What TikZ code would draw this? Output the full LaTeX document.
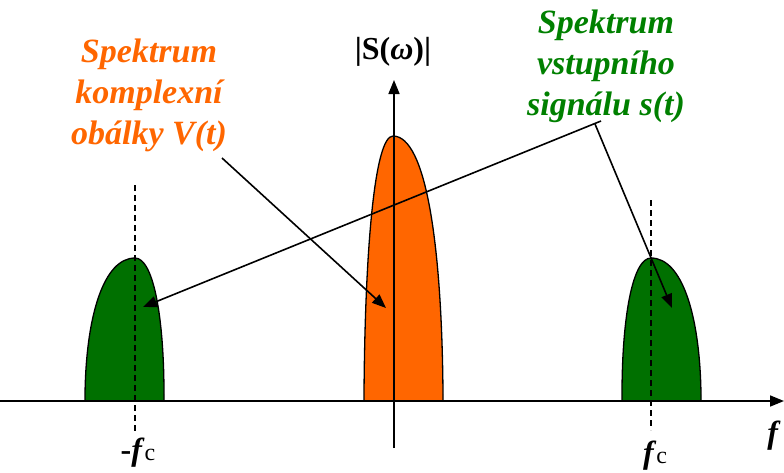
\documentclass[tikz,border=0pt]{standalone}
\usepackage{fontspec}
\setmainfont{Liberation Serif}
\usetikzlibrary{arrows.meta}
\definecolor{myorange}{RGB}{255,102,0}
\definecolor{txtgreen}{RGB}{0,128,0}
\definecolor{lobegreen}{RGB}{0,112,0}
\tikzset{
  lbl/.style={font=\fontsize{34}{41}\selectfont\bfseries\itshape, align=center, inner sep=0pt},
  axlbl/.style={font=\fontsize{32}{36}\selectfont\bfseries, inner sep=0pt},
  lobe/.style={draw=black, line width=1.3pt},
  ptr/.style={line width=1.6pt, -{Triangle[length=14pt,width=11pt]}},
  guide/.style={line width=1.2pt, dashed, dash pattern=on 6pt off 4pt},
}
\begin{document}
\begin{tikzpicture}[x=1pt,y=-1pt]
\useasboundingbox (0,0) rectangle (784,472);
% lobes
\fill[lobegreen] (85,401) -- (85,395) .. controls (86,315) and (104,258) .. (135,258)
  .. controls (153,258) and (164,315) .. (164,395) -- (164,401) -- cycle;
\draw[lobe] (85,401) -- (85,395) .. controls (86,315) and (104,258) .. (135,258)
  .. controls (153,258) and (164,315) .. (164,395) -- (164,401);
\fill[lobegreen] (622,401) -- (622,395) .. controls (622,315) and (633,258) .. (651,258)
  .. controls (682,258) and (700,315) .. (701,395) -- (701,401) -- cycle;
\draw[lobe] (622,401) -- (622,395) .. controls (622,315) and (633,258) .. (651,258)
  .. controls (682,258) and (700,315) .. (701,395) -- (701,401);
\fill[myorange] (364,401) -- (364,395) .. controls (365,245) and (375,136) .. (393,136)
  .. controls (426,136) and (442,245) .. (443,395) -- (443,401) -- cycle;
\draw[lobe] (364,401) -- (364,395) .. controls (365,245) and (375,136) .. (393,136)
  .. controls (426,136) and (442,245) .. (443,395) -- (443,401);
% dashed guides
\coordinate (gLt) at (135,185); \coordinate (gLb) at (135,432);
\coordinate (gRt) at (651,200); \coordinate (gRb) at (651,430);
\draw[guide] (gLt) -- (gLb);
\draw[guide] (gRt) -- (gRb);
% axes
\coordinate (xs) at (0,401); \coordinate (xe) at (784,401);
\coordinate (ys) at (394,448); \coordinate (ye) at (394,80);
\draw[line width=1.6pt, -{Triangle[length=14pt,width=11pt]}] (xs) -- (xe);
\draw[line width=1.6pt, -{Triangle[length=14pt,width=11pt]}] (ys) -- (ye);
% labels
\node[lbl, text=myorange] (tor) at (149,95) {Spektrum\\komplexní\\obálky V(t)};
\node[lbl, text=txtgreen] (tgr) at (606,66) {Spektrum\\vstupního\\signálu s(t)};
\node[axlbl] (sw) at (393,52) {|S(\textit{ω})|};
\node[axlbl] (fcl) at (138,453) {-\textit{f}\fontsize{24}{26}\selectfont\mdseries c};
\node[axlbl] (fcr) at (655,456) {\textit{f}\fontsize{24}{26}\selectfont\mdseries c};
\node[axlbl] (fax) at (774,436) {\textit{f}};
% pointers
\coordinate (oa) at (222,158); \coordinate (ob) at (386,308);
\draw[ptr] (oa) -- (ob);
\coordinate (k) at (595,124); \coordinate (kx) at (601,121);
\coordinate (tl) at (143,307); \coordinate (tr) at (672,308);
\draw[ptr] (kx) -- (tl);
\draw[ptr] (k) -- (tr);
\end{tikzpicture}
\end{document}
